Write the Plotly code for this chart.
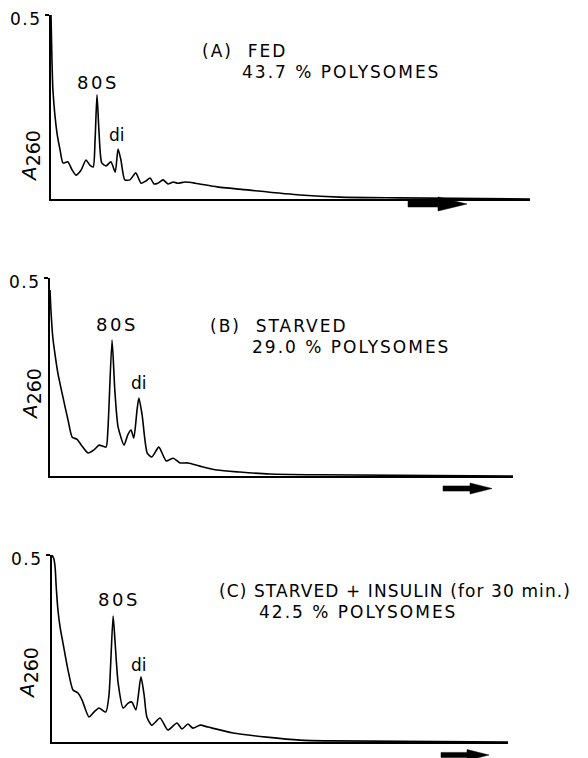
import plotly.graph_objects as go

# page body adds an 8px margin; figure sized to fill the rest of the 588x758 window
OFF = 8
W, H = 580, 750

# ---------------- data (gradient position fraction, A260) ----------------
# (A) FED
x_fed = [0.000, 0.002, 0.004, 0.0125, 0.019, 0.025, 0.035, 0.044, 0.052, 0.063,
         0.073, 0.081, 0.088, 0.092, 0.096, 0.100, 0.106, 0.115, 0.125, 0.134,
         0.140, 0.146, 0.154, 0.165, 0.177, 0.188, 0.198, 0.207, 0.215, 0.223,
         0.234, 0.244, 0.255, 0.265, 0.280, 0.301, 0.347, 0.415, 0.520, 0.603,
         0.729, 1.000]
y_fed = [0.500, 0.378, 0.296, 0.179, 0.133, 0.098, 0.101, 0.079, 0.065, 0.079,
         0.106, 0.092, 0.087, 0.160, 0.283, 0.188, 0.098, 0.090, 0.101, 0.073,
         0.136, 0.106, 0.052, 0.052, 0.071, 0.043, 0.049, 0.057, 0.041, 0.043,
         0.052, 0.041, 0.046, 0.043, 0.046, 0.043, 0.033, 0.024, 0.011, 0.005,
         0.003, 0.000]

# (B) STARVED
x_starved = [0.000, 0.002, 0.006, 0.011, 0.017, 0.028, 0.039, 0.048, 0.058, 0.069,
             0.082, 0.095, 0.106, 0.121, 0.125, 0.134, 0.140, 0.147, 0.160, 0.168,
             0.175, 0.181, 0.188, 0.192, 0.199, 0.210, 0.220, 0.235, 0.251, 0.266,
             0.281, 0.298, 0.324, 0.361, 0.410, 0.475, 0.583, 1.000]
y_starved = [0.470, 0.419, 0.351, 0.306, 0.260, 0.199, 0.141, 0.098, 0.093, 0.076,
             0.058, 0.066, 0.078, 0.073, 0.116, 0.343, 0.217, 0.124, 0.078, 0.104,
             0.116, 0.096, 0.167, 0.197, 0.154, 0.058, 0.048, 0.073, 0.038, 0.045,
             0.033, 0.033, 0.025, 0.015, 0.010, 0.005, 0.003, 0.000]

# (C) STARVED + INSULIN
x_insulin = [0.000, 0.004, 0.007, 0.009, 0.013, 0.018, 0.024, 0.035, 0.046, 0.057,
             0.066, 0.081, 0.092, 0.103, 0.118, 0.125, 0.134, 0.138, 0.145, 0.156,
             0.167, 0.175, 0.184, 0.195, 0.202, 0.208, 0.219, 0.237, 0.254, 0.274,
             0.285, 0.298, 0.309, 0.325, 0.342, 0.397, 0.471, 0.544, 0.610, 1.000]
y_insulin = [0.500, 0.490, 0.465, 0.420, 0.353, 0.305, 0.265, 0.193, 0.139, 0.131,
             0.112, 0.067, 0.080, 0.091, 0.080, 0.126, 0.337, 0.273, 0.158, 0.091,
             0.104, 0.107, 0.086, 0.174, 0.126, 0.067, 0.045, 0.064, 0.032, 0.051,
             0.035, 0.048, 0.037, 0.045, 0.040, 0.024, 0.013, 0.005, 0.003, 0.000]

titles = ["(A)  FED", "(B)  STARVED", "(C) STARVED + INSULIN (for 30 min.)"]
pct_labels = ["43.7 % POLYSOMES", "29.0 % POLYSOMES", "42.5 % POLYSOMES"]
y_ticks = [0.5]
y_ticktext = ["0.5"]

# ---------------- layout geometry (window pixels) ----------------
def px(x):
    return (x - OFF) / W

def py(y):
    return 1 - (y - OFF) / H

panels = [
    dict(x=x_fed, y=y_fed, xd=(51, 530), yd=(199, 15),
         t80=(98, 82), tdi=(117, 135), ttl=(200, 51), tpct=(240, 72), ta=(30, 156),
         ttl_sp=2, arrow=(408, 438, 467, 204, 3, 7)),
    dict(x=x_starved, y=y_starved, xd=(50, 513), yd=(476, 278),
         t80=(117, 324), tdi=(139, 383), ttl=(208, 326), tpct=(250, 347), ta=(31, 394),
         ttl_sp=2, arrow=(443, 470, 492, 488.5, 2.6, 5.5)),
    dict(x=x_insulin, y=y_insulin, xd=(52, 508), yd=(742, 555),
         t80=(119, 599), tdi=(139, 665), ttl=(217, 591), tpct=(257, 612), ta=(28, 673),
         ttl_sp=1.1, arrow=(441, 467, 489, 755, 2.6, 5.5)),
]

FONT = "DejaVu Sans"
fig = go.Figure()
annotations = []
shapes = []
layout = {}


def spaced(text, sp):
    return f"<span style='letter-spacing:{sp}px'>{text}</span>"


for i, p in enumerate(panels, start=1):
    xa = "x" if i == 1 else f"x{i}"
    ya = "y" if i == 1 else f"y{i}"
    fig.add_trace(go.Scatter(x=p["x"], y=p["y"], mode="lines", xaxis=xa, yaxis=ya,
                             line=dict(color="black", width=1.6, shape="spline", smoothing=0.6),
                             showlegend=False, hoverinfo="skip", cliponaxis=True))
    xk = "xaxis" if i == 1 else f"xaxis{i}"
    yk = "yaxis" if i == 1 else f"yaxis{i}"
    layout[xk] = dict(domain=[px(p["xd"][0]), px(p["xd"][1])], range=[0, 1],
                      anchor=ya, showline=True, linecolor="black", linewidth=2.2,
                      showgrid=False, zeroline=False, showticklabels=False, ticks="",
                      automargin=False)
    layout[yk] = dict(domain=[py(p["yd"][0]), py(p["yd"][1])], range=[0, 0.5],
                      anchor=xa, showline=True, linecolor="black", linewidth=2.2,
                      showgrid=False, zeroline=False, tickvals=y_ticks,
                      ticktext=[spaced(t, 1.5) for t in y_ticktext],
                      ticks="outside", ticklen=4, tickwidth=2, tickcolor="black",
                      tickfont=dict(family=FONT, size=17, color="black"),
                      ticklabelshift=4, ticklabeloverflow="allow", automargin=False)

    def ann(text, pos, xanchor="center", size=15, angle=0):
        annotations.append(dict(text=text, x=px(pos[0]), y=py(pos[1]), xref="paper",
                                yref="paper", xanchor=xanchor, yanchor="middle",
                                showarrow=False, textangle=angle,
                                font=dict(family=FONT, size=size, color="black")))

    ann(spaced("80S", 2.5), p["t80"], size=18)
    ann("di", p["tdi"], size=17)
    ann(spaced(titles[i - 1], p["ttl_sp"]), p["ttl"], xanchor="left", size=17)
    ann(spaced(pct_labels[i - 1], 2), p["tpct"], xanchor="left", size=17)
    ann("<i>A</i><sub><span style='font-size:19px'>260</span></sub>", p["ta"], size=20, angle=-90)

    x0, x1, x2, yc, sh, hh = p["arrow"]
    path = (f"M {px(x0)},{py(yc - sh)} L {px(x1)},{py(yc - sh)} L {px(x1)},{py(yc - hh)} "
            f"L {px(x2)},{py(yc)} L {px(x1)},{py(yc + hh)} L {px(x1)},{py(yc + sh)} "
            f"L {px(x0)},{py(yc + sh)} Z")
    shapes.append(dict(type="path", path=path, xref="paper", yref="paper",
                       fillcolor="black", line=dict(color="black", width=0.5)))

fig.update_layout(width=W, height=H, margin=dict(l=0, r=0, t=0, b=0),
                  paper_bgcolor="white", plot_bgcolor="white",
                  annotations=annotations, shapes=shapes, **layout)

fig.write_html("out.html")
